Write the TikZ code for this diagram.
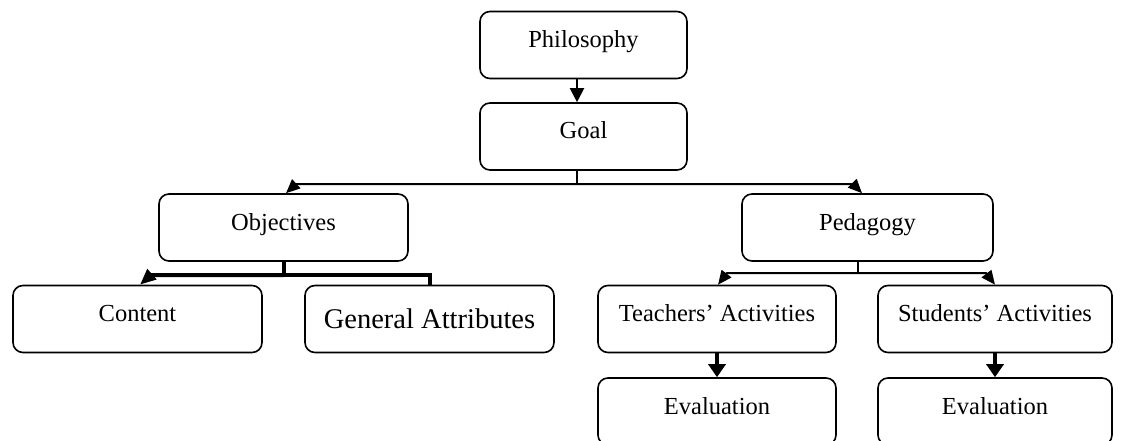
\documentclass[tikz,border=0pt]{standalone}
\usepackage{fontspec}
\setmainfont{Liberation Serif}
\usetikzlibrary{arrows.meta}
\begin{document}
\begin{tikzpicture}[x=1pt,y=-1pt,
  box/.style={draw, line width=1.6pt, rounded corners=10pt, minimum height=67pt,
    inner sep=0pt, font=\fontsize{24.5}{28}\selectfont, text height=17pt, text depth=12pt},
  bigbox/.style={box, font=\fontsize{28.5}{32}\selectfont, text height=19.5pt, text depth=0.5pt},
  conn/.style={draw, line width=2pt, line join=miter},
  heavy/.style={draw, line width=4pt, line join=miter},
  headS/.style={-{Triangle[length=14pt,width=12pt]}},
  headM/.style={-{Triangle[length=14pt,width=14pt]}},
  headL/.style={-{Triangle[length=16pt,width=13pt]}},
  headT/.style={-{Triangle[length=13pt,width=17pt]}}]
\useasboundingbox (0,0) rectangle (1135,441);
\clip (0,0) rectangle (1135,441);

% boxes
\node[box, minimum width=207pt] (phil)  at (583.5,45)    {Philosophy};
\node[box, minimum width=207pt] (goal)  at (583.5,136.5) {Goal};
\node[box, minimum width=249pt] (obj)   at (283.5,227.5) {Objectives};
\node[box, minimum width=251pt] (ped)   at (867.5,227.5) {Pedagogy};
\node[box, minimum width=249pt] (cont)  at (137.5,319)   {Content};
\node[bigbox, minimum width=249pt] (gen) at (429.5,319)  {General Attributes};
\node[box, minimum width=238pt] (teach) at (717,319)     {Teachers’ Activities};
\node[box, minimum width=234pt] (stud)  at (995,319)     {Students’ Activities};
\node[box, minimum width=238pt] (evalT) at (717,411.5)   {Evaluation};
\node[box, minimum width=234pt] (evalS) at (995,411.5)   {Evaluation};

% Philosophy -> Goal
\coordinate (pg) at (577,0);
\draw[conn, headM] (phil.south -| pg) -- (goal.north -| pg);

% Goal -> Objectives / Pedagogy
\coordinate (gj) at (577,184);
\coordinate (gl) at (296,184);
\coordinate (gr) at (853,184);
\draw[conn] (goal.south -| gj) -- (gj);
\draw[conn, headS] (gj) -- (gl) -- ([xshift=2.5pt]obj.north);
\draw[conn, headS] (gj) -- (gr) -- ([xshift=-5.5pt]ped.north);

% Objectives -> Content / General Attributes
\coordinate (oj) at (284,275);
\coordinate (ol) at (151,275);
\coordinate (or) at (429.5,275);
\draw[heavy] (obj.south -| oj) -- (oj);
\draw[heavy, headL] (oj) -- (ol) -- ([xshift=2.5pt]cont.north);
\draw[heavy] (oj) -- (or) -- (gen.north);

% Pedagogy -> Teachers / Students
\coordinate (pj) at (858,273);
\coordinate (pl) at (727,273);
\coordinate (pr) at (986,273);
\draw[conn] (ped.south -| pj) -- (pj);
\draw[conn, headS] (pj) -- (pl) -- ([xshift=1pt]teach.north);
\draw[conn, headS] (pj) -- (pr) -- (stud.north);

% Activities -> Evaluation
\draw[line width=3.5pt, headT] (teach.south) -- (evalT.north);
\draw[line width=3.5pt, headT] (stud.south) -- (evalS.north);
\end{tikzpicture}
\end{document}
